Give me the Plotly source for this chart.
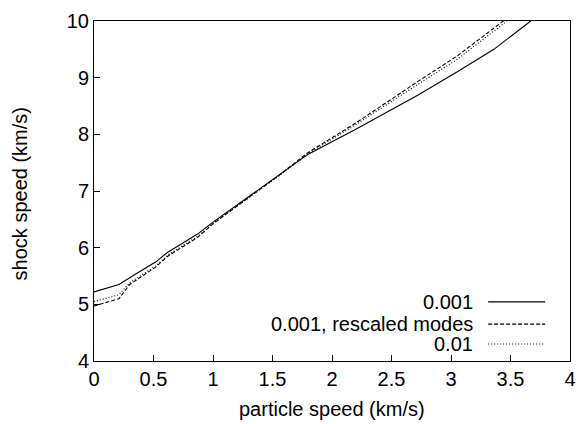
import plotly.graph_objects as go

# particle speed (km/s) and shock speed (km/s)
x_001 = [0.0, 0.21, 0.33, 0.52, 0.62, 0.87, 1.0, 1.25, 1.55, 1.8, 2.2, 2.72, 3.05, 3.36, 3.67]
y_001 = [5.22, 5.35, 5.51, 5.75, 5.92, 6.24, 6.45, 6.82, 7.27, 7.65, 8.09, 8.69, 9.1, 9.5, 10.0]

x_resc = [0.0, 0.21, 0.3, 0.52, 0.62, 0.87, 1.0, 1.25, 1.55, 1.8, 2.2, 2.72, 3.05, 3.44]
y_resc = [4.97, 5.1, 5.35, 5.66, 5.85, 6.18, 6.42, 6.8, 7.27, 7.68, 8.2, 8.93, 9.38, 10.0]

x_01 = [0.0, 0.21, 0.3, 0.52, 0.62, 0.87, 1.0, 1.25, 1.55, 1.8, 2.2, 2.72, 3.05, 3.47]
y_01 = [5.05, 5.17, 5.38, 5.68, 5.87, 6.2, 6.43, 6.8, 7.26, 7.66, 8.17, 8.88, 9.32, 10.0]

legend_labels = ["0.001", "0.001, rescaled modes", "0.01"]
dashes = ["solid", "4px,2px", "1px,2px"]

x_title = "particle speed (km/s)"
y_title = "shock speed (km/s)"

FONT = "Liberation Sans, Arial, Helvetica, sans-serif"
FS = 20

fig = go.Figure()
for xs, ys, name, d in zip([x_001, x_resc, x_01], [y_001, y_resc, y_01], legend_labels, dashes):
    fig.add_trace(go.Scatter(x=xs, y=ys, mode="lines", name=name,
                             line=dict(color="black", width=1.1, dash=d),
                             showlegend=False))

# manual gnuplot-style legend (text, then line sample to the right)
leg_y = [0.174, 0.1085, 0.05]
for name, d, ly in zip(legend_labels, dashes, leg_y):
    fig.add_annotation(xref="paper", yref="paper", x=0.801, y=ly, text=name,
                       showarrow=False, xanchor="right", yanchor="middle",
                       font=dict(size=FS, color="black"))
    fig.add_shape(type="line", xref="paper", yref="paper", x0=0.828, x1=0.948, y0=ly, y1=ly,
                  line=dict(color="black", width=1.1, dash=d))

# axis titles
fig.add_annotation(xref="paper", yref="paper", x=0.5, y=-0.141, text=x_title,
                   showarrow=False, xanchor="center", yanchor="middle",
                   font=dict(size=FS, color="black"))
fig.add_annotation(xref="paper", yref="paper", x=-0.1535, y=0.4927, text=y_title,
                   showarrow=False, xanchor="center", yanchor="middle", textangle=-90,
                   font=dict(size=FS, color="black"))

fig.update_xaxes(range=[0, 4], tick0=0, dtick=0.5,
                 showline=True, linecolor="black", linewidth=1, mirror=True,
                 ticks="inside", ticklen=6, tickcolor="black", tickwidth=1)
fig.update_yaxes(range=[4, 10], tick0=4, dtick=1,
                 showline=True, linecolor="black", linewidth=1, mirror=True,
                 ticks="inside", ticklen=6, tickcolor="black", tickwidth=1)

fig.update_layout(width=586, height=424, margin=dict(l=94, r=10, t=20, b=63),
                  plot_bgcolor="white", paper_bgcolor="white",
                  font=dict(family=FONT, size=FS, color="black"))

fig.write_html("out.html", config={"displayModeBar": False},
               post_script="document.body.style.margin='0px';")
